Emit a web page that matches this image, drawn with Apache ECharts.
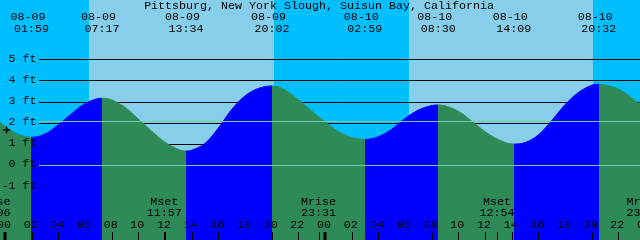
<!DOCTYPE html>
<html><head><meta charset="utf-8">
<script src="https://cdn.jsdelivr.net/npm/echarts@6/dist/echarts.min.js"></script>
<style>html,body{margin:0;padding:0;background:#fff}#c{width:640px;height:240px}</style>
</head><body><div id="c"></div>
<script>
// ---------- data (time in hours from 08-09 00:00) ----------
const chartTitle = 'Pittsburg, New York Slough, Suisun Bay, California';
const tideTimes   = [-1, 0, 1, 1.983, 3, 4, 5, 6, 7.283, 8, 9, 10, 11, 12, 13, 13.567, 14, 15, 16, 17, 18, 19, 20.033, 21, 22, 23, 24, 25, 26, 26.983, 28, 29, 30, 31, 32, 32.5, 33, 34, 35, 36, 37, 38.15, 39, 40, 41, 42, 43, 44, 44.533, 45, 46, 47, 48, 49];
const tideHeights = [2.40, 1.84, 1.45, 1.31, 1.47, 1.90, 2.43, 2.90, 3.16, 3.08, 2.73, 2.17, 1.60, 1.08, 0.74, 0.66, 0.70, 1.02, 1.75, 2.62, 3.27, 3.62, 3.74, 3.55, 3.08, 2.55, 2.04, 1.58, 1.30, 1.21, 1.34, 1.69, 2.20, 2.60, 2.81, 2.84, 2.80, 2.54, 2.08, 1.58, 1.20, 0.99, 1.06, 1.42, 2.10, 2.85, 3.43, 3.77, 3.82, 3.78, 3.60, 3.18, 2.62, 2.05];
const extremeDates = ['08-09', '08-09', '08-09', '08-09', '08-10', '08-10', '08-10', '08-10'];
const extremeClock = ['01:59', '07:17', '13:34', '20:02', '02:59', '08:30', '14:09', '20:32'];
const sunTimes = [6.32, 20.14, 30.33, 44.12];            // sunrise, sunset, sunrise, sunset
const moonNames = ['Mrise', 'Mset', 'Mrise', 'Mset', 'Mrise'];
const moonDates = ['08-08', '08-09', '08-09', '08-10', '08-10'];
const moonClock = ['23:06', '11:57', '23:31', '12:54', '23:56'];
const hourTicks  = [0, 2, 4, 6, 8, 10, 12, 14, 16, 18, 20, 22, 24, 26, 28, 30, 32, 34, 36, 38, 40, 42, 44, 46, 48];
const hourLabels = ['00','02','04','06','08','10','12','14','16','18','20','22','00','02','04','06','08','10','12','14','16','18','20','22','00'];
const heightTicks  = [-1, 0, 1, 2, 3, 4, 5];
const heightLabels = ['-1 ft', '0 ft', '1 ft', '2 ft', '3 ft', '4 ft', '5 ft'];
const datumLevel = 0;
const meanLevel = 2.1;
const markTime = 0.12, markHeight = 1.66;

// ---------- helpers ----------
const dayOffset = { '08-08': -24, '08-09': 0, '08-10': 24 };
function toHours(date, clock) {
  const p = clock.split(':');
  return dayOffset[date] + (+p[0]) + (+p[1]) / 60;
}
const extremeTimes = extremeClock.map((c, i) => toHours(extremeDates[i], c));
const moonTimes = moonClock.map((c, i) => toHours(moonDates[i], c));

const X_MIN = -0.375, X_MAX = 47.625;
const Y_MIN = -3.548, Y_MAX = 7.805;
const NIGHT = '#00bfff', DAY = '#87ceeb', RISE = '#0000ff', FALL = '#2e8b57';
const LIGHT = '#6fcdb0';
const FONT = 'Liberation Mono', FS = 11.67;

function txt(text, x, y, align) {
  return { type: 'text', style: { text: text, x: x, y: y, align: align || 'center', verticalAlign: 'middle',
    fontFamily: FONT, fontSize: FS, fill: '#000' } };
}

// day/night bands
const bands = [];
let prev = X_MIN, isDay = 0;
sunTimes.forEach(s => { bands.push([prev, s, isDay]); prev = s; isDay = 1 - isDay; });
bands.push([prev, X_MAX, isDay]);

// rising / falling pieces
const pieces = [];
let rising = false;
pieces.push({ lt: extremeTimes[0], color: FALL });
for (let i = 0; i < extremeTimes.length; i++) {
  rising = !rising;
  const pc = { gte: extremeTimes[i], color: rising ? RISE : FALL };
  if (i + 1 < extremeTimes.length) pc.lt = extremeTimes[i + 1];
  pieces.push(pc);
}

const chart = echarts.init(document.getElementById('c'), null, { renderer: 'canvas' });
chart.setOption({
  animation: false,
  backgroundColor: '#ffffff',
  grid: { left: 0, right: 0, top: 0, bottom: 0 },
  xAxis: { type: 'value', min: X_MIN, max: X_MAX, show: false },
  yAxis: { type: 'value', min: Y_MIN, max: Y_MAX, show: false },
  visualMap: { type: 'piecewise', show: false, dimension: 0, seriesIndex: 2, pieces: pieces },
  graphic: [ { type: 'text', x: 319, y: 5.5, z: 100, style: { text: chartTitle, align: 'center', verticalAlign: 'middle', fontFamily: FONT, fontSize: FS, fill: '#000' } } ],
  series: [
    { // sky bands
      type: 'custom', z: 0, silent: true,
      data: bands,
      encode: { x: [0, 1] },
      renderItem: function (params, api) {
        const x0 = Math.round(api.coord([api.value(0), 0])[0]);
        const x1 = Math.round(api.coord([api.value(1), 0])[0]);
        const cs = params.coordSys;
        return { type: 'rect', shape: { x: x0, y: cs.y, width: x1 - x0, height: cs.height },
          style: { fill: api.value(2) ? DAY : NIGHT } };
      }
    },
    { // black height lines (behind water)
      type: 'custom', z: 1, silent: true,
      data: heightTicks.map(v => [X_MIN, v]),
      renderItem: function (params, api) {
        const y = Math.round(api.coord([X_MIN, api.value(1)])[1]) + 0.5;
        const cs = params.coordSys;
        return { type: 'line', shape: { x1: 39, y1: y, x2: cs.x + cs.width, y2: y }, style: { stroke: '#000', lineWidth: 1 } };
      }
    },
    { // tide curve
      type: 'line', z: 2, silent: true,
      data: tideTimes.map((t, i) => [t, tideHeights[i]]),
      smooth: 0.35, showSymbol: false,
      lineStyle: { width: 1 },
      areaStyle: { opacity: 1, origin: 'start' }
    },
    { // datum and mean lines
      type: 'custom', z: 3, silent: true,
      data: [[X_MIN, datumLevel], [X_MIN, meanLevel]],
      renderItem: function (params, api) {
        const y = Math.round(api.coord([X_MIN, api.value(1)])[1]) + 0.5;
        const cs = params.coordSys;
        return { type: 'line', shape: { x1: 39, y1: y, x2: cs.x + cs.width, y2: y }, style: { stroke: LIGHT, lineWidth: 1 } };
      }
    },
    { // height labels
      type: 'custom', z: 4, silent: true,
      data: heightTicks.map(v => [X_MIN, v]),
      renderItem: function (params, api) {
        const y = api.coord([X_MIN, api.value(1)])[1];
        return txt(heightLabels[params.dataIndex], 36.5, y - 0.7, 'right');
      }
    },
    { // extreme labels (top)
      type: 'custom', z: 4, silent: true,
      data: extremeTimes.map(t => [t, 0]),
      renderItem: function (params, api) {
        const x = api.coord([api.value(0), 0])[0];
        const i = params.dataIndex;
        return { type: 'group', children: [ txt(extremeDates[i], x - 3.5, 17), txt(extremeClock[i], x, 29.3) ] };
      }
    },
    { // moon events (bottom)
      type: 'custom', z: 4, silent: true,
      data: moonTimes.map(t => [t, 0]),
      renderItem: function (params, api) {
        const x = api.coord([api.value(0), 0])[0];
        const xr = Math.round(x) + 0.5;
        const i = params.dataIndex;
        return { type: 'group', children: [
          txt(moonNames[i], x, 202), txt(moonClock[i], x, 213.3),
          { type: 'line', shape: { x1: xr, y1: 232, x2: xr, y2: 240 }, style: { stroke: '#000', lineWidth: 1 } }
        ] };
      }
    },
    { // hour ticks
      type: 'custom', z: 4, silent: true,
      data: hourTicks.map(h => [h, 0]),
      renderItem: function (params, api) {
        const h = api.value(0);
        const x = api.coord([h, 0])[0];
        const mid = (h % 24 === 0);
        const xr = mid ? Math.round(x) : Math.round(x) + 0.5;
        return { type: 'group', children: [
          txt(hourLabels[params.dataIndex], x - 1, 225),
          { type: 'line', shape: { x1: xr, y1: 232, x2: xr, y2: 240 }, style: { stroke: '#000', lineWidth: mid ? 3 : 1 } }
        ] };
      }
    },
    { // "+" mark
      type: 'custom', z: 4, silent: true,
      data: [[markTime, markHeight]],
      renderItem: function (params, api) {
        const p = api.coord([api.value(0), api.value(1)]);
        return { type: 'group', children: [
          { type: 'line', shape: { x1: p[0] - 3.5, y1: p[1], x2: p[0] + 3.5, y2: p[1] }, style: { stroke: '#000', lineWidth: 1.4 } },
          { type: 'line', shape: { x1: p[0], y1: p[1] - 3.5, x2: p[0], y2: p[1] + 3.5 }, style: { stroke: '#000', lineWidth: 1.4 } }
        ] };
      }
    }
  ]
});
</script>
</body></html>
